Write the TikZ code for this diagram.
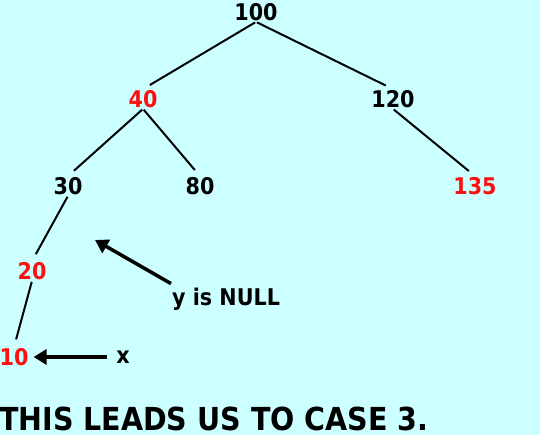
\documentclass[tikz,border=0pt]{standalone}
\usepackage{fontspec}
\setmainfont{DejaVu Sans Condensed}
\usetikzlibrary{arrows.meta}
\definecolor{bgcyan}{HTML}{CCFFFF}
\definecolor{keyred}{HTML}{FF1010}
\tikzset{
  key/.style={font=\fontsize{23}{23}\selectfont\bfseries,inner sep=1pt},
  redkey/.style={key,text=keyred},
  edge/.style={line width=2pt,shorten <=1pt,shorten >=8pt},
  pointer/.style={line width=3.5pt,-{Triangle[length=13pt,width=15pt]}},
}
\begin{document}
\begin{tikzpicture}[x=1pt,y=-1pt,line join=round]
\fill[bgcyan] (0,0) rectangle (540,435);
\useasboundingbox (0,0) rectangle (540,435);
% the tree
\node[key] (n100) at (256,12) {100};
\node[redkey] (n40) at (143,99) {40};
\node[key] (n120) at (393,99) {120};
\node[key] (n30) at (68,186) {30};
\node[key] (n80) at (200,186) {80};
\node[redkey] (n135) at (475,186) {135};
\node[redkey] (n20) at (32,271) {20};
\node[redkey] (n10) at (14,357) {10};
\draw[edge] (n100.south) -- (n40.north);
\draw[edge] (n100.south) -- (n120.north);
\draw[edge] (n40.south) -- (n30.north);
\draw[edge] (n40.south) -- (n80.north);
\draw[edge] (n120.south) -- (n135.north);
\draw[edge] (n30.south) -- (n20.north);
\draw[edge] (n20.south) -- (n10.north);
% labels and pointers
\node[key,anchor=west] (ynull) at (171,299) {y is NULL};
\node[key] (xlab) at (123,357) {x};
\coordinate (yhole) at (95,240);
\draw[pointer] (ynull.north west) ++(0,-3) -- (yhole);
\draw[pointer] (xlab.west) ++(-8,0) -- ([xshift=4pt]n10.east);
\node[anchor=west,inner sep=0pt,text depth=0pt,font=\fontsize{31.7}{32}\selectfont\bfseries] (case) at (-1,419) {THIS LEADS US TO CASE 3.};
\end{tikzpicture}
\end{document}
